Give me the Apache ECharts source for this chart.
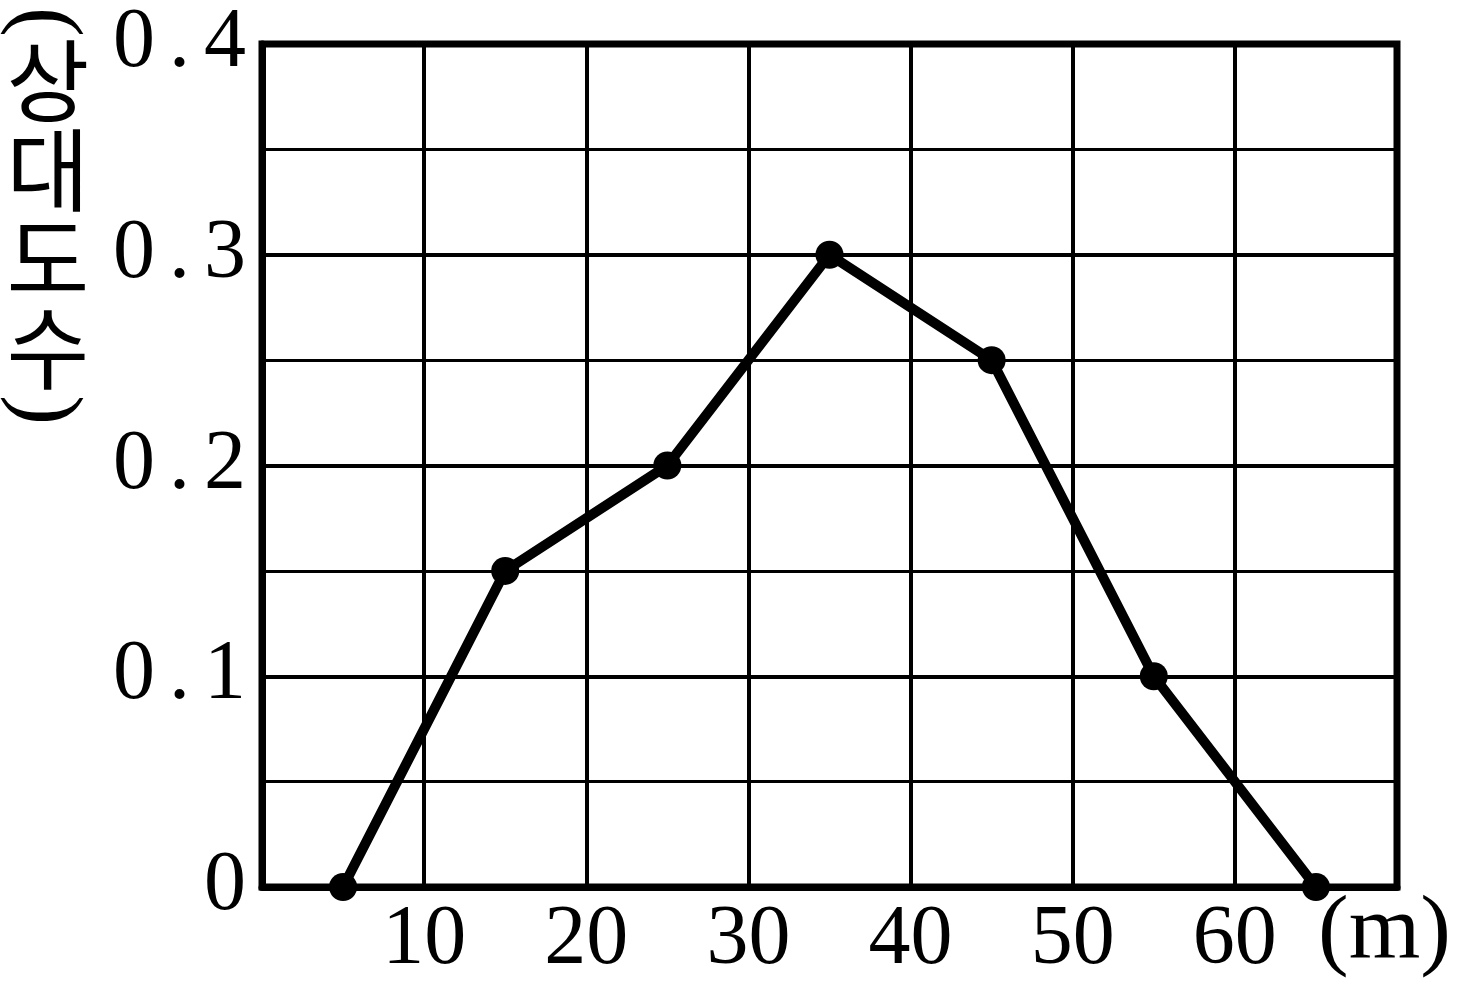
<!DOCTYPE html>
<html><head><meta charset="utf-8">
<script src="https://cdn.jsdelivr.net/npm/echarts@6/dist/echarts.min.js"></script>
<style>html,body{margin:0;padding:0;background:#fff}#c{width:1464px;height:992px}</style>
</head><body><div id="c"></div>
<script>
const xValues = [5, 15, 25, 35, 45, 55, 65];
const yValues = [0, 0.15, 0.2, 0.3, 0.25, 0.1, 0];
const xTickLabels = ['10', '20', '30', '40', '50', '60'];
const yTickLabels = ['0', '0.1', '0.2', '0.3', '0.4'];
const yAxisTitle = ['(', '상', '대', '도', '수', ')'];
const xAxisTitle = '(m)';

const serif = "'Liberation Serif', 'DejaVu Serif', serif";
const chart = echarts.init(document.getElementById('c'), null, {renderer: 'canvas'});
chart.setOption({
  backgroundColor: '#fff',
  animation: false,
  grid: {left: 262, top: 44, right: 67, bottom: 105, show: true, borderColor: '#000', borderWidth: 7, backgroundColor: 'transparent', z: 3},
  xAxis: {
    type: 'value', min: 0, max: 70, interval: 10,
    axisLine: {show: true, onZero: false, lineStyle: {color: '#000', width: 7}},
    axisTick: {show: false},
    splitLine: {show: true, lineStyle: {color: '#000', width: 4}},
    axisLabel: {
      color: '#000', fontFamily: serif, fontSize: 84, margin: 12,
      formatter: v => { const i = xTickLabels.indexOf(String(v)); return i >= 0 ? xTickLabels[i] : ''; }
    }
  },
  yAxis: {
    type: 'value', min: 0, max: 0.4, interval: 0.1,
    axisLine: {show: true, lineStyle: {color: '#000', width: 7}},
    axisTick: {show: false},
    minorTick: {show: false, splitNumber: 2},
    splitLine: {show: true, lineStyle: {color: '#000', width: 4}},
    minorSplitLine: {show: true, lineStyle: {color: '#000', width: 3}},
    axisLabel: {
      color: '#000', fontFamily: serif, fontSize: 84, margin: 16,
      formatter: v => {
        const s = yTickLabels[Math.round(v * 10)];
        return s ? s.split('').join('\u200A\u200A') : '';
      }
    }
  },
  series: [{
    type: 'line',
    data: xValues.map((x, i) => [x, yValues[i]]),
    lineStyle: {color: '#000', width: 10},
    itemStyle: {color: '#000'},
    symbol: 'circle', symbolSize: 28, showSymbol: true,
    z: 5
  }],
  graphic: [
    {type: 'text', x: 44, y: 22, rotation: -Math.PI / 2, style: {text: yAxisTitle[0], fill: '#000', font: "90px " + serif, align: 'center', verticalAlign: 'middle'}},
    {type: 'text', x: 48, y: 36, style: {text: yAxisTitle.slice(1, 5).join('\n'), fill: '#000', font: "90px 'Noto Sans CJK KR'", lineHeight: 89, align: 'center', verticalAlign: 'top'}},
    {type: 'text', x: 44, y: 410, rotation: -Math.PI / 2, style: {text: yAxisTitle[5], fill: '#000', font: "90px " + serif, align: 'center', verticalAlign: 'middle'}},
    {type: 'text', left: 1318, top: 888, style: {text: xAxisTitle, fill: '#000', font: "92px " + serif}}
  ]
});
</script></body></html>
